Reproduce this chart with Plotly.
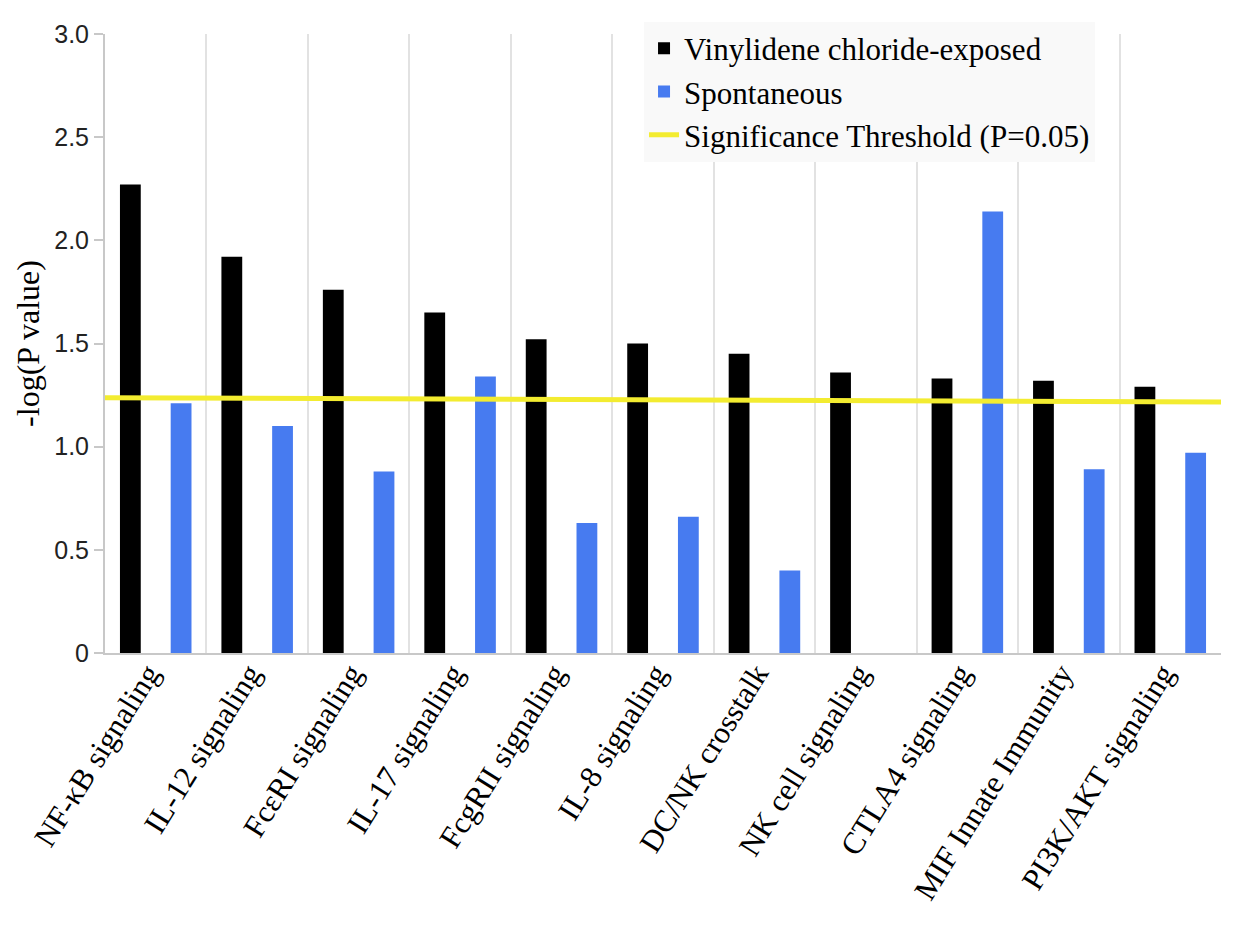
import plotly.graph_objects as go

categories = ["NF-κB signaling", "IL-12 signaling", "FcεRI signaling", "IL-17 signaling",
              "FcgRII signaling", "IL-8 signaling", "DC/NK crosstalk", "NK cell signaling",
              "CTLA4 signaling", "MIF Innate Immunity", "PI3K/AKT signaling"]
vinylidene = [2.27, 1.92, 1.76, 1.65, 1.52, 1.50, 1.45, 1.36, 1.33, 1.32, 1.29]
spontaneous = [1.21, 1.10, 0.88, 1.34, 0.63, 0.66, 0.40, 0.0, 2.14, 0.89, 0.97]
threshold_x = [0, 1]
threshold_y = [1.237, 1.217]

fig = go.Figure()
fig.add_trace(go.Bar(x=categories, y=vinylidene, name="Vinylidene chloride-exposed",
                     marker=dict(color="#000000", line=dict(width=0)), legendgroup="a"))
fig.add_trace(go.Bar(x=categories, y=spontaneous, name="Spontaneous",
                     marker=dict(color="#477BF0", line=dict(width=0)), legendgroup="b"))
fig.add_trace(go.Scatter(x=threshold_x, y=threshold_y, xaxis="x2", mode="lines",
                         name="Significance Threshold (P=0.05)",
                         line=dict(color="#F3EC30", width=5), legendgroup="c"))

fig.update_layout(
    width=1241, height=928,
    margin=dict(l=97, r=28, t=26, b=283, autoexpand=False),
    paper_bgcolor="white", plot_bgcolor="white",
    barmode="group", bargap=0.0, bargroupgap=0.59,
    font=dict(family="Liberation Serif", color="black"),
    xaxis=dict(type="category", tickson="boundaries", showgrid=True, gridcolor="#e2e2e2",
               gridwidth=2, showline=True, linecolor="#c8c8c8", linewidth=2, ticks="",
               tickangle=-58, tickfont=dict(family="Liberation Serif", size=31, color="black"),
               ticklabelstandoff=-12, ticklabelshift=-8,
               zeroline=False, automargin=False),
    xaxis2=dict(overlaying="x", range=[0, 1], visible=False, showgrid=False, zeroline=False),
    yaxis=dict(range=[0, 3.0], tickvals=[0, 0.5, 1.0, 1.5, 2.0, 2.5, 3.0],
               ticktext=["0", "0.5", "1.0", "1.5", "2.0", "2.5", "3.0"],
               showgrid=False, zeroline=False, showline=True, linecolor="#c8c8c8", linewidth=2,
               ticks="outside", ticklen=9, tickcolor="#c8c8c8", tickwidth=2,
               tickfont=dict(family="Liberation Sans", size=25, color="#222222"),
               automargin=False,
               title=dict(text="-log(P value)", font=dict(family="Liberation Serif", size=32, color="black"),
                          standoff=5)),
    legend=dict(x=0.483, y=1.02, xanchor="left", yanchor="top", bgcolor="#f9f9f9",
                font=dict(family="Liberation Serif", size=31, color="black"),
                tracegroupgap=13, traceorder="normal"),
    showlegend=True,
)

fig.write_html("out.html")
